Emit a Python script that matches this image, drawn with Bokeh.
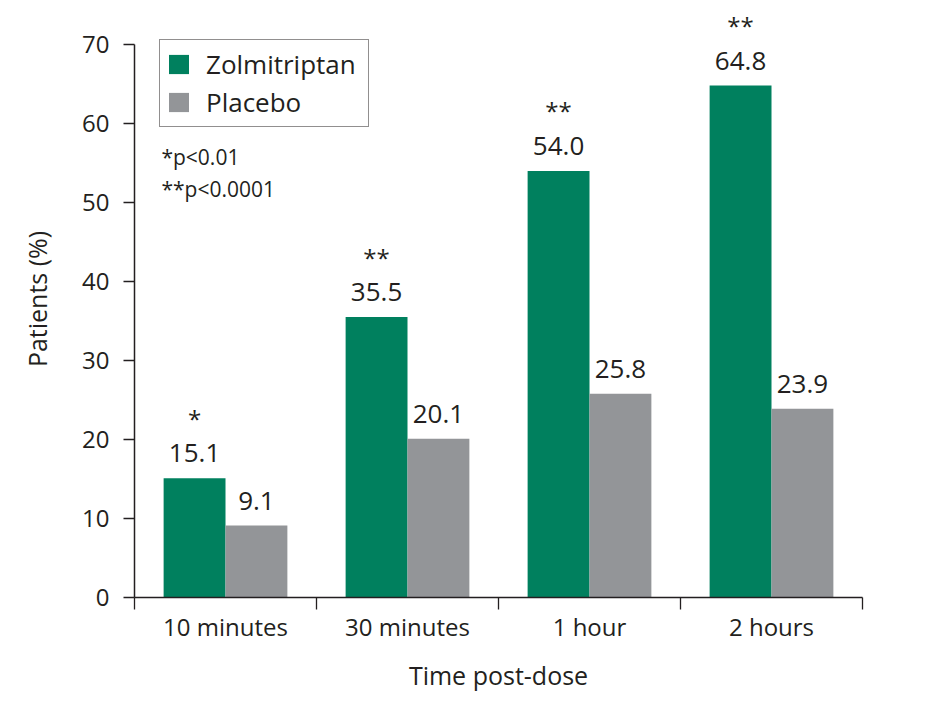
import numpy as np
from bokeh.plotting import figure
from bokeh.models import Range1d, FixedTicker, ColumnDataSource, Label
from bokeh.core.properties import value
from bokeh.embed import file_html
from bokeh.resources import INLINE

categories = ["10 minutes", "30 minutes", "1 hour", "2 hours"]
zolmitriptan = [15.1, 35.5, 54.0, 64.8]
placebo = [9.1, 20.1, 25.8, 23.9]
significance = ["*", "**", "**", "**"]
y_ticks = [0, 10, 20, 30, 40, 50, 60, 70]
notes = ["*p<0.01", "**p<0.0001"]

GREEN = "#00805e"
GRAY = "#939598"
INK = "#231f20"
FONT = "Open Sans"

idx = np.arange(len(categories))
bar_w = 0.34
x_z = idx + 0.5 - bar_w / 2
x_p = idx + 0.5 + bar_w / 2

src_z = ColumnDataSource(dict(x=x_z, top=zolmitriptan,
                              lab=[f"{v:.1f}" for v in zolmitriptan], sig=significance))
src_p = ColumnDataSource(dict(x=x_p, top=placebo,
                              lab=[f"{v:.1f}" for v in placebo]))

p = figure(width=910, height=700, output_backend="svg", toolbar_location=None,
           x_range=Range1d(0, len(categories)), y_range=Range1d(0, 75.57),
           min_border_left=134, min_border_right=48, min_border_top=0,
           min_border_bottom=103)
p.outline_line_color = None
p.xgrid.visible = False
p.ygrid.visible = False

p.vbar(x="x", top="top", width=bar_w, source=src_z, fill_color=GREEN,
       line_color=None, legend_label="Zolmitriptan")
p.vbar(x="x", top="top", width=bar_w, source=src_p, fill_color=GRAY,
       line_color=None, legend_label="Placebo")

common = dict(text_font=value(FONT), text_color=INK, text_align="center",
              text_baseline="alphabetic")
p.text(x="x", y="top", text="lab", source=src_z, y_offset=-25,
       text_font_size="26px", **common)
p.text(x="x", y="top", text="lab", source=src_p, y_offset=-25,
       text_font_size="26px", **common)
p.text(x="x", y="top", text="sig", source=src_z, y_offset=-60,
       text_font_size="24px", **common)

# y axis
ya = p.yaxis[0]
ya.ticker = FixedTicker(ticks=y_ticks, minor_ticks=[])
ya.bounds = (0, 70)
ya.axis_label = "Patients (%)"
ya.axis_label_text_font = FONT
ya.axis_label_text_font_size = "25px"
ya.axis_label_text_font_style = "normal"
ya.axis_label_text_color = INK
ya.axis_label_standoff = 25
ya.major_label_text_font = FONT
ya.major_label_text_font_size = "24px"
ya.major_label_text_color = INK
ya.major_label_standoff = 14
ya.major_tick_in = 0
ya.major_tick_out = 11
ya.minor_tick_line_color = None
ya.axis_line_color = INK
ya.axis_line_width = 1.5
ya.major_tick_line_color = INK
ya.major_tick_line_width = 1.3

# x axis: labels at category centres, ticks at category boundaries
xa = p.xaxis[0]
xa.ticker = FixedTicker(ticks=list(idx + 0.5), minor_ticks=list(range(len(categories) + 1)))
xa.major_label_overrides = {float(i + 0.5): c for i, c in enumerate(categories)}
xa.major_tick_line_color = None
xa.major_tick_in = 0
xa.major_tick_out = 0
xa.minor_tick_in = 0
xa.minor_tick_out = 12
xa.minor_tick_line_color = INK
xa.minor_tick_line_width = 1.3
xa.axis_line_color = INK
xa.axis_line_width = 1.5
xa.axis_label = "Time post-dose"
xa.axis_label_text_font = FONT
xa.axis_label_text_font_size = "25px"
xa.axis_label_text_font_style = "normal"
xa.axis_label_text_color = INK
xa.axis_label_standoff = 12
xa.major_label_text_font = FONT
xa.major_label_text_font_size = "24px"
xa.major_label_text_color = INK
xa.major_label_standoff = 0

# legend
lg = p.legend[0]
lg.location = (25, 470)
lg.label_text_font = FONT
lg.label_text_font_size = "26px"
lg.label_text_color = INK
lg.glyph_width = 25
lg.glyph_height = 24
lg.label_standoff = 15
lg.label_width = 156
lg.padding = 6
lg.spacing = 2
lg.margin = 0
lg.border_line_color = INK
lg.border_line_width = 1.5
lg.background_fill_alpha = 1

# significance notes
for t, yv in zip(notes, [55.75, 51.65]):
    p.add_layout(Label(x=0.148, y=yv, text=t, text_font=FONT, text_font_size="21px",
                       text_color=INK, text_baseline="alphabetic"))

open("out.html", "w").write(file_html(p, INLINE))
